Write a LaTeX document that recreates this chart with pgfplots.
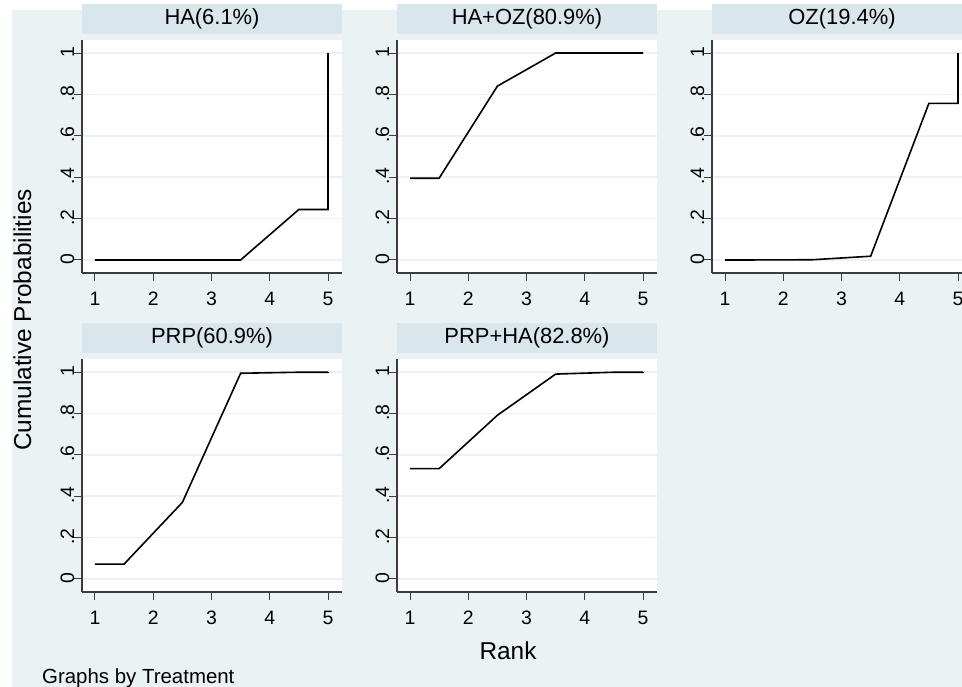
\documentclass[border=0pt]{standalone}
\usepackage{fontspec}
\setmainfont{Liberation Sans}
\usepackage{pgfplots}
\pgfplotsset{compat=1.18}
\definecolor{bgc}{RGB}{234,242,243}
\definecolor{hdr}{RGB}{217,230,235}
\definecolor{gridc}{RGB}{234,242,243}
\definecolor{axc}{RGB}{60,60,60}

\pgfplotsset{
 panel/.style={
  scale only axis, width=260bp, height=233bp, anchor=south west,
  xmin=0.777, xmax=5.240, ymin=-0.063, ymax=1.063,
  axis x line*=bottom, axis y line*=left,
  axis line style={-, draw=axc, line width=1.3bp},
  axis background/.style={fill=white},
  xtick={1,2,3,4,5}, xticklabels={1,2,3,4,5},
  ytick={0,0.2,0.4,0.6,0.8,1}, yticklabels={0,.2,.4,.6,.8,1},
  tick align=outside, major tick length=8bp,
  tick style={draw=axc, line width=1bp},
  ymajorgrids, grid style={draw=gridc, line width=1.5bp},
  /pgf/number format/assume math mode=true,
  ticklabel style={font=\fontsize{19.5}{21}\selectfont, text=black},
  yticklabel style={rotate=90, anchor=base, xshift=1bp},
  xticklabel style={anchor=north, text height=14bp, text depth=0pt, yshift=-7bp},
  title style={at={(0.5,1)}, anchor=south, yshift=0pt, fill=hdr, minimum width=260bp, minimum height=30bp, inner sep=0pt, font=\fontsize{22}{24}\selectfont},
 },
 curve/.style={black, line width=1.6bp, mark=none},
}

\begin{document}
\begin{tikzpicture}[x=1bp,y=1bp]
\useasboundingbox (0,0) rectangle (962,687);
\fill[white] (0,0) rectangle (962,687);
\fill[bgc] (12,0) rectangle (962,677);

\begin{axis}[panel, at={(82bp,414bp)}, title={HA(6.1\%)}]
\addplot[curve] coordinates {(1,0) (1.5,0) (2.5,0) (3.5,0) (4.5,0.244) (5,0.244) (5,1)};
\end{axis}
\begin{axis}[panel, at={(397bp,414bp)}, title={HA+OZ(80.9\%)}]
\addplot[curve] coordinates {(1,0.395) (1.5,0.395) (2.5,0.84) (3.5,1) (4.5,1) (5,1) (5,1)};
\end{axis}
\begin{axis}[panel, at={(712bp,414bp)}, title={OZ(19.4\%)}]
\addplot[curve] coordinates {(1,0) (1.5,0) (2.5,0.001) (3.5,0.018) (4.5,0.757) (5,0.757) (5,1)};
\end{axis}
\begin{axis}[panel, at={(82bp,95bp)}, title={PRP(60.9\%)}]
\addplot[curve] coordinates {(1,0.072) (1.5,0.072) (2.5,0.37) (3.5,0.994) (4.5,0.999) (5,0.999) (5,1)};
\end{axis}
\begin{axis}[panel, at={(397bp,95bp)}, title={PRP+HA(82.8\%)}]
\addplot[curve] coordinates {(1,0.533) (1.5,0.533) (2.5,0.791) (3.5,0.99) (4.5,0.999) (5,0.999) (5,1)};
\end{axis}

\node[rotate=90, anchor=base, font=\fontsize{24.5}{26}\selectfont] at (31,367) {Cumulative Probabilities};
\node[anchor=base, font=\fontsize{24.5}{26}\selectfont] at (508,27) {Rank};
\node[anchor=base west, inner sep=0pt, font=\fontsize{20.5}{22}\selectfont] at (42,3) {Graphs by Treatment};
\end{tikzpicture}
\end{document}
